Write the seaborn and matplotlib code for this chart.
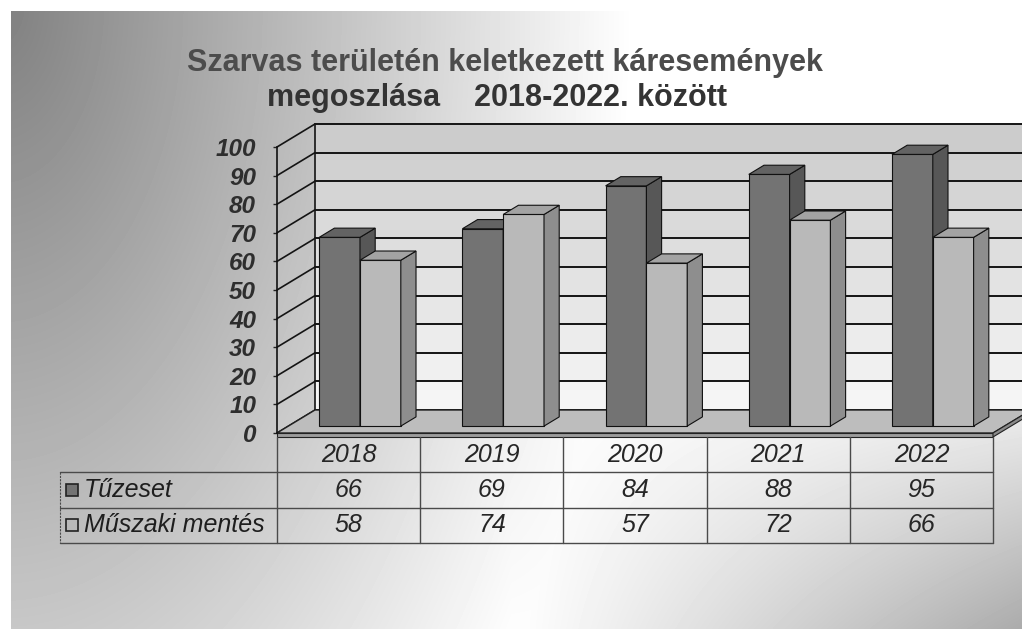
import numpy as np
import pandas as pd
import matplotlib
matplotlib.use("Agg")
import matplotlib.pyplot as plt
import matplotlib.transforms as mtransforms
from matplotlib.patches import Polygon
import seaborn as sns

sns.set_style("white")
plt.rcParams["font.family"] = ["Liberation Sans", "DejaVu Sans"]

# adatok
years = ["2018", "2019", "2020", "2021", "2022"]
tuzeset = [66, 69, 84, 88, 95]
muszaki = [58, 74, 57, 72, 66]
series = ["Tűzeset", "Műszaki mentés"]
y_ticks = list(range(0, 101, 10))

df = pd.DataFrame({
    "Év": years * 2,
    "Darab": tuzeset + muszaki,
    "Típus": [series[0]] * len(years) + [series[1]] * len(years),
})

W, H = 1022, 629
fig = plt.figure(figsize=(W / 100, H / 100), dpi=100)

# háttér színátmenet
bg = fig.add_axes([0, 0, 1, 1], zorder=-10)
yy, xx = np.mgrid[0:H, 0:W]
xn, yn = xx / W, yy / H
d = np.sqrt(xn ** 2 + (yn * 0.35) ** 2)
v = 0.50 + 0.5 * np.clip(d / 0.62, 0, 1)
v -= 0.33 * np.clip((yn - 0.55) / 0.45, 0, 1) * np.clip((xn - 0.5) / 0.5, 0, 1)
v[:11, :] = 1.0
v[:, :11] = 1.0
bg.imshow(v, cmap="gray", vmin=0, vmax=1, aspect="auto", interpolation="bilinear")
bg.axis("off")

# fő diagram (elülső sík)
ax = fig.add_axes([277 / W, 196 / H, 716 / W, 286 / H])
ax.set_facecolor("none")
front_cols = {series[0]: "#737373", series[1]: "#b9b9b9"}
side_cols = {series[0]: "#575757", series[1]: "#8e8e8e"}
top_cols = {series[0]: "#636363", series[1]: "#a3a3a3"}
sns.barplot(data=df, x="Év", y="Darab", hue="Típus", palette=front_cols,
            width=0.57, edgecolor="#111111", linewidth=0.8, legend=False, ax=ax)
ax.set_xlim(-0.5, 4.5)
ax.set_ylim(0, 100)
ax.set(xlabel="", ylabel="", xticks=[])
ax.set_yticks(y_ticks)
ax.set_yticklabels([str(t) for t in y_ticks], fontsize=17.5, fontweight="bold",
                   fontstyle="italic", color="#2e2e2e")
ax.tick_params(axis="y", left=True, length=3, width=1, pad=12, color="#222222")
for s in ["top", "right", "bottom"]:
    ax.spines[s].set_visible(False)
ax.spines["left"].set_color("#111111")
ax.spines["left"].set_linewidth(1.2)

DX, DY = 38.0, 23.0
ident = mtransforms.IdentityTransform()


def P(x, y, dep):
    px, py = ax.transData.transform((x, y))
    return (px + dep * DX, py + dep * DY)


# hátsó fal sávokban
band_top = np.array([0.80, 0.80, 0.80])
band_bot = np.array([0.96, 0.96, 0.96])
for k in range(10):
    c = band_bot + (band_top - band_bot) * (k / 9)
    pts = [P(-0.5, y_ticks[k], 1), P(5, y_ticks[k], 1),
           P(5, y_ticks[k + 1], 1), P(-0.5, y_ticks[k + 1], 1)]
    ax.add_patch(Polygon(pts, closed=True, transform=ident, facecolor=c,
                         edgecolor="none", zorder=0.5, clip_on=False))

# rácsvonalak a hátsó és oldalsó falon
for t in y_ticks:
    (x0, y0), (x1, y1) = P(-0.5, t, 1), P(5, t, 1)
    ax.add_line(plt.Line2D([x0, x1], [y0, y1], transform=ident, color="#141414",
                           lw=1.4, zorder=1, clip_on=False))
    (x0, y0), (x1, y1) = P(-0.5, t, 0), P(-0.5, t, 1)
    ax.add_line(plt.Line2D([x0, x1], [y0, y1], transform=ident, color="#141414",
                           lw=1.2, zorder=1, clip_on=False))
(x0, y0), (x1, y1) = P(-0.5, 0, 1), P(-0.5, 100, 1)
ax.add_line(plt.Line2D([x0, x1], [y0, y1], transform=ident, color="#141414",
                       lw=1.2, zorder=1, clip_on=False))

# padló
floor = [P(-0.5, 0, 0), P(4.5, 0, 0), P(4.5, 0, 1), P(-0.5, 0, 1)]
ax.add_patch(Polygon(floor, closed=True, transform=ident, facecolor="#bdbdbd",
                     edgecolor="#222222", lw=1, zorder=1.5, clip_on=False))
fl, fr, br = P(-0.5, 0, 0), P(4.5, 0, 0), P(4.5, 0, 1)
ax.add_patch(Polygon([fl, fr, (fr[0], fr[1] - 4), (fl[0], fl[1] - 4)], closed=True,
                     transform=ident, facecolor="#9c9c9c", edgecolor="#222222",
                     lw=0.8, zorder=1.5, clip_on=False))
ax.add_patch(Polygon([fr, br, (br[0], br[1] - 4), (fr[0], fr[1] - 4)], closed=True,
                     transform=ident, facecolor="#8a8a8a", edgecolor="#222222",
                     lw=0.8, zorder=1.5, clip_on=False))

# 3D oszlopok: elülső lap eltolása + oldal- és fedőlap
bar_d, depth = 0.3, 0.4
off = mtransforms.ScaledTranslation(bar_d * DX / 100, bar_d * DY / 100, fig.dpi_scale_trans)
sx, sy = depth * DX, depth * DY
for j, cont in enumerate(ax.containers):
    name = series[j]
    for i, bar in enumerate(cont.patches):
        z = 3 + 0.1 * (i * 2 + j)
        bar.set_transform(ax.transData + off)
        bar.set_zorder(z)
        xa, xb, h = bar.get_x(), bar.get_x() + bar.get_width(), bar.get_height()
        a = P(xa, h, bar_d)
        b = P(xb, h, bar_d)
        c = P(xb, 0, bar_d)
        side = [b, c, (c[0] + sx, c[1] + sy), (b[0] + sx, b[1] + sy)]
        top = [a, b, (b[0] + sx, b[1] + sy), (a[0] + sx, a[1] + sy)]
        ax.add_patch(Polygon(side, closed=True, transform=ident, facecolor=side_cols[name],
                             edgecolor="#111111", lw=0.8, zorder=z, clip_on=False))
        ax.add_patch(Polygon(top, closed=True, transform=ident, facecolor=top_cols[name],
                             edgecolor="#111111", lw=0.8, zorder=z, clip_on=False))

# adattábla
tax = fig.add_axes([277 / W, 86 / H, 716 / W, 106 / H])
tax.set_xlim(-0.5, 4.5)
tax.set_ylim(3, 0)
tax.axis("off")
col_w = 716 / 5
x_left = -0.5 - (277 - 60) / col_w
x_lab = -0.5 - (277 - 84) / col_w
x_sq = -0.5 - (277 - 72) / col_w
tkw = dict(fontsize=18, fontstyle="italic", color="#262626", ha="center", va="center")
for i, yr in enumerate(years):
    tax.text(i, 0.5, yr, **tkw)
    tax.text(i, 1.5, str(tuzeset[i]), **tkw)
    tax.text(i, 2.5, str(muszaki[i]), **tkw)
lc = "#4a4a4a"
for k in range(6):
    tax.plot([-0.5 + k, -0.5 + k], [0, 3], color=lc, lw=1, clip_on=False)
for r in [1, 2, 3]:
    tax.plot([x_left, 4.5], [r, r], color=lc, lw=1, clip_on=False)
tax.plot([x_left, x_left], [1, 3], color=lc, lw=0.8, ls=(0, (2, 1)), clip_on=False)
for r, name in enumerate(series):
    tax.plot([x_sq], [1.5 + r], marker="s", ms=8.5, mfc=front_cols[name],
             mec="#222222", mew=1.2, clip_on=False)
    tax.text(x_lab, 1.5 + r, name, fontsize=18, fontstyle="italic", color="#1e1e1e",
             ha="left", va="center", clip_on=False)

# cím
fig.text(505 / W, 1 - 63 / H, "Szarvas területén keletkezett káresemények",
         fontsize=22, fontweight="bold", color="#4c4c4c", ha="center", va="center")
fig.text(497 / W, 1 - 98 / H, "megoszlása    2018-2022. között",
         fontsize=22, fontweight="bold", color="#333333", ha="center", va="center")

fig.savefig("out.png", dpi=100)
